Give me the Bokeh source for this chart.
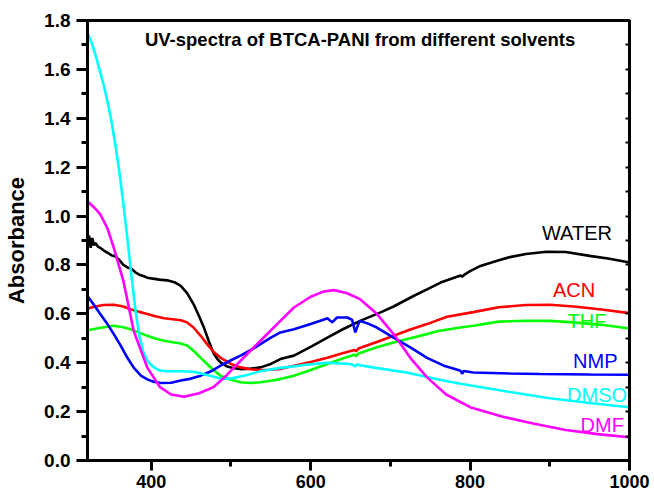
from bokeh.plotting import figure
from bokeh.models import (FixedTicker, PrintfTickFormatter, LinearAxis, Label, Range1d,
                          CustomLabelingPolicy)
from bokeh.embed import file_html
from bokeh.resources import INLINE

# ---------------- data ----------------
water_x = [320, 322, 324, 326, 328, 330, 333, 336, 340, 345, 350, 355, 360, 365, 370, 375, 380, 385, 390,
           395, 400, 410, 420, 430, 437, 445, 453, 460, 466, 472, 478, 483, 487, 495, 503, 512, 525, 537,
           550, 562, 579, 600, 621, 641, 662, 687, 704, 729, 746, 763, 780, 788, 790, 792, 800, 813, 836,
           850, 870, 896, 920, 950, 975, 1000]
water_y = [0.90, 0.92, 0.87, 0.91, 0.88, 0.89, 0.875, 0.87, 0.86, 0.85, 0.84, 0.835, 0.82, 0.80, 0.79,
           0.785, 0.77, 0.76, 0.755, 0.748, 0.745, 0.74, 0.737, 0.728, 0.714, 0.685, 0.64, 0.59, 0.544,
           0.49, 0.44, 0.415, 0.401, 0.385, 0.378, 0.374, 0.376, 0.381, 0.395, 0.415, 0.429, 0.465, 0.503,
           0.538, 0.571, 0.605, 0.63, 0.673, 0.70, 0.728, 0.748, 0.757, 0.752, 0.758, 0.775, 0.796, 0.819,
           0.832, 0.845, 0.854, 0.853, 0.837, 0.825, 0.81]

acn_x = [320, 330, 340, 353, 365, 374, 385, 395, 405, 416, 427, 437, 445, 453, 462, 470, 478, 487, 500,
         512, 525, 537, 550, 562, 579, 600, 621, 641, 655, 657, 660, 683, 704, 725, 746, 771, 804, 836,
         870, 900, 930, 965, 1000]
acn_y = [0.622, 0.63, 0.636, 0.637, 0.63, 0.619, 0.608, 0.599, 0.59, 0.582, 0.578, 0.574, 0.565, 0.544,
         0.51, 0.476, 0.445, 0.42, 0.395, 0.381, 0.373, 0.37, 0.371, 0.374, 0.388, 0.403, 0.42, 0.44,
         0.452, 0.447, 0.458, 0.485, 0.51, 0.536, 0.558, 0.588, 0.607, 0.627, 0.636, 0.637, 0.63, 0.618,
         0.603]

thf_x = [320, 335, 353, 365, 374, 385, 395, 405, 416, 427, 437, 445, 453, 462, 470, 478, 487, 500, 512,
         525, 537, 550, 562, 579, 600, 621, 641, 655, 657, 660, 683, 704, 725, 746, 760, 788, 804, 836,
         870, 900, 930, 965, 1000]
thf_y = [0.533, 0.542, 0.551, 0.545, 0.537, 0.523, 0.51, 0.499, 0.49, 0.484, 0.479, 0.47, 0.449, 0.42,
         0.395, 0.37, 0.347, 0.33, 0.32, 0.317, 0.32, 0.326, 0.333, 0.347, 0.37, 0.395, 0.418, 0.433,
         0.427, 0.438, 0.463, 0.483, 0.50, 0.517, 0.53, 0.544, 0.551, 0.568, 0.572, 0.571, 0.565, 0.555,
         0.54]

nmp_x = [320, 328, 336, 345, 353, 362, 370, 378, 387, 395, 403, 412, 425, 437, 450, 462, 475, 487, 500,
         512, 525, 537, 550, 562, 579, 600, 615, 621, 627, 633, 646, 652, 656, 660, 662, 672, 683, 704,
         725, 746, 767, 780, 788, 790, 792, 804, 850, 888, 950, 1000]
nmp_y = [0.673, 0.637, 0.599, 0.558, 0.517, 0.468, 0.42, 0.38, 0.347, 0.332, 0.322, 0.317, 0.318, 0.327,
         0.335, 0.347, 0.365, 0.388, 0.41, 0.429, 0.452, 0.476, 0.503, 0.524, 0.537, 0.558, 0.575, 0.582,
         0.565, 0.585, 0.585, 0.575, 0.524, 0.56, 0.571, 0.56, 0.544, 0.503, 0.463, 0.42, 0.388, 0.375,
         0.367, 0.355, 0.366, 0.36, 0.356, 0.354, 0.352, 0.351]

dmso_x = [320, 325, 330, 335, 340, 345, 350, 355, 360, 365, 370, 375, 380, 385, 390, 395, 400, 405, 411,
          420, 440, 455, 470, 487, 500, 520, 537, 560, 590, 621, 650, 656, 658, 662, 680, 720, 762, 788,
          850, 900, 950, 1000]
dmso_y = [1.75, 1.71, 1.66, 1.60, 1.54, 1.47, 1.39, 1.29, 1.18, 1.05, 0.91, 0.76, 0.62, 0.51, 0.445, 0.408,
          0.39, 0.378, 0.368, 0.365, 0.365, 0.362, 0.35, 0.335, 0.335, 0.35, 0.365, 0.378, 0.39, 0.40,
          0.395, 0.385, 0.393, 0.39, 0.38, 0.36, 0.33, 0.314, 0.28, 0.255, 0.235, 0.218]

dmf_x = [320, 325, 330, 336, 345, 353, 365, 378, 395, 411, 425, 441, 460, 478, 495, 512, 537, 562, 579,
         600, 615, 629, 645, 662, 683, 704, 725, 746, 770, 800, 840, 879, 920, 960, 1000]
dmf_y = [1.06, 1.045, 1.03, 1.007, 0.95, 0.87, 0.735, 0.53, 0.38, 0.30, 0.27, 0.261, 0.275, 0.30, 0.35,
         0.408, 0.49, 0.571, 0.626, 0.67, 0.69, 0.697, 0.685, 0.66, 0.60, 0.517, 0.42, 0.34, 0.27, 0.218,
         0.18, 0.151, 0.125, 0.108, 0.095]

series_names = ["WATER", "ACN", "THF", "NMP", "DMSO", "DMF"]
series_colors = ["#000000", "#FF0000", "#00FF00", "#0000FF", "#00FFFF", "#FF00FF"]
series_x = [water_x, acn_x, thf_x, nmp_x, dmso_x, dmf_x]
series_y = [water_y, acn_y, thf_y, nmp_y, dmso_y, dmf_y]

# label anchor (right edge x, centre y) in data units
label_x = [978, 957, 971, 985, 997, 993]
label_y = [0.93, 0.696, 0.569, 0.406, 0.267, 0.145]

y_ticks = [0.0, 0.2, 0.4, 0.6, 0.8, 1.0, 1.2, 1.4, 1.6, 1.8]
y_minor = [0.1, 0.3, 0.5, 0.7, 0.9, 1.1, 1.3, 1.5, 1.7]
x_ticks = [400, 600, 800, 1000]
x_minor = [500, 700, 900]

title_text = "UV-spectra of BTCA-PANI from different solvents"
FONT = "Liberation Sans"
AX = "#000000"

# ---------------- figure ----------------
p = figure(width=654, height=498, output_backend="svg", toolbar_location=None,
           x_range=Range1d(320, 1000), y_range=Range1d(0, 1.8),
           min_border_left=87, min_border_top=20, min_border_right=25, min_border_bottom=38)
p.background_fill_color = "white"
p.border_fill_color = "white"
p.grid.visible = False
p.outline_line_color = AX
p.outline_line_width = 3

for xs, ys, c in zip(series_x, series_y, series_colors):
    p.line(xs, ys, line_color=c, line_width=2.6)

for name, c, lx, ly in zip(series_names, series_colors, label_x, label_y):
    p.add_layout(Label(x=lx, y=ly, text=name, text_align="right", text_baseline="middle",
                       text_color=c, text_font=FONT, text_font_size="20px"))

p.add_layout(Label(x=662, y=1.722, text=title_text, text_align="center", text_baseline="middle",
                   text_color="black", text_font=FONT, text_font_size="18.5px", text_font_style="bold"))

for ax_, dims in ((p.xaxis[0], (10, 6)), (p.yaxis[0], (11, 6))):
    ax_.axis_line_color = AX
    ax_.axis_line_width = 3
    ax_.major_tick_line_color = AX
    ax_.minor_tick_line_color = AX
    ax_.major_tick_line_width = 3
    ax_.minor_tick_line_width = 3
    ax_.major_tick_in = 0
    ax_.major_tick_out = dims[0]
    ax_.minor_tick_in = 0
    ax_.minor_tick_out = dims[1]
    ax_.major_label_text_font = FONT
    ax_.major_label_text_font_style = "bold"
    ax_.major_label_text_color = "black"

xa = p.xaxis[0]
xa.ticker = FixedTicker(ticks=x_ticks, minor_ticks=x_minor)
xa.major_label_standoff = 4
xa.major_label_text_font_size = "18px"

ya = p.yaxis[0]
ya.ticker = FixedTicker(ticks=y_ticks, minor_ticks=y_minor)
ya.formatter = PrintfTickFormatter(format="%.1f")
ya.major_label_standoff = 6
ya.major_label_text_font_size = "19px"
ya.axis_label = "Absorbance"
ya.axis_label_text_font = FONT
ya.axis_label_text_font_size = "22px"
ya.axis_label_text_font_style = "bold"
ya.axis_label_text_color = "black"
ya.axis_label_standoff = 12

ra = LinearAxis(ticker=FixedTicker(ticks=y_ticks, minor_ticks=y_minor),
                major_label_policy=CustomLabelingPolicy(
                    code="for (const i of indices) indices.unset(i); return indices"))
ra.axis_line_color = AX
ra.axis_line_width = 3
ra.major_tick_line_color = AX
ra.minor_tick_line_color = AX
ra.major_tick_line_width = 2
ra.minor_tick_line_width = 2
ra.major_tick_in = 4
ra.major_tick_out = 0
ra.minor_tick_in = 4
ra.minor_tick_out = 0
ra.major_label_standoff = 0
p.add_layout(ra, "right")

open("out.html", "w").write(file_html(p, INLINE))
